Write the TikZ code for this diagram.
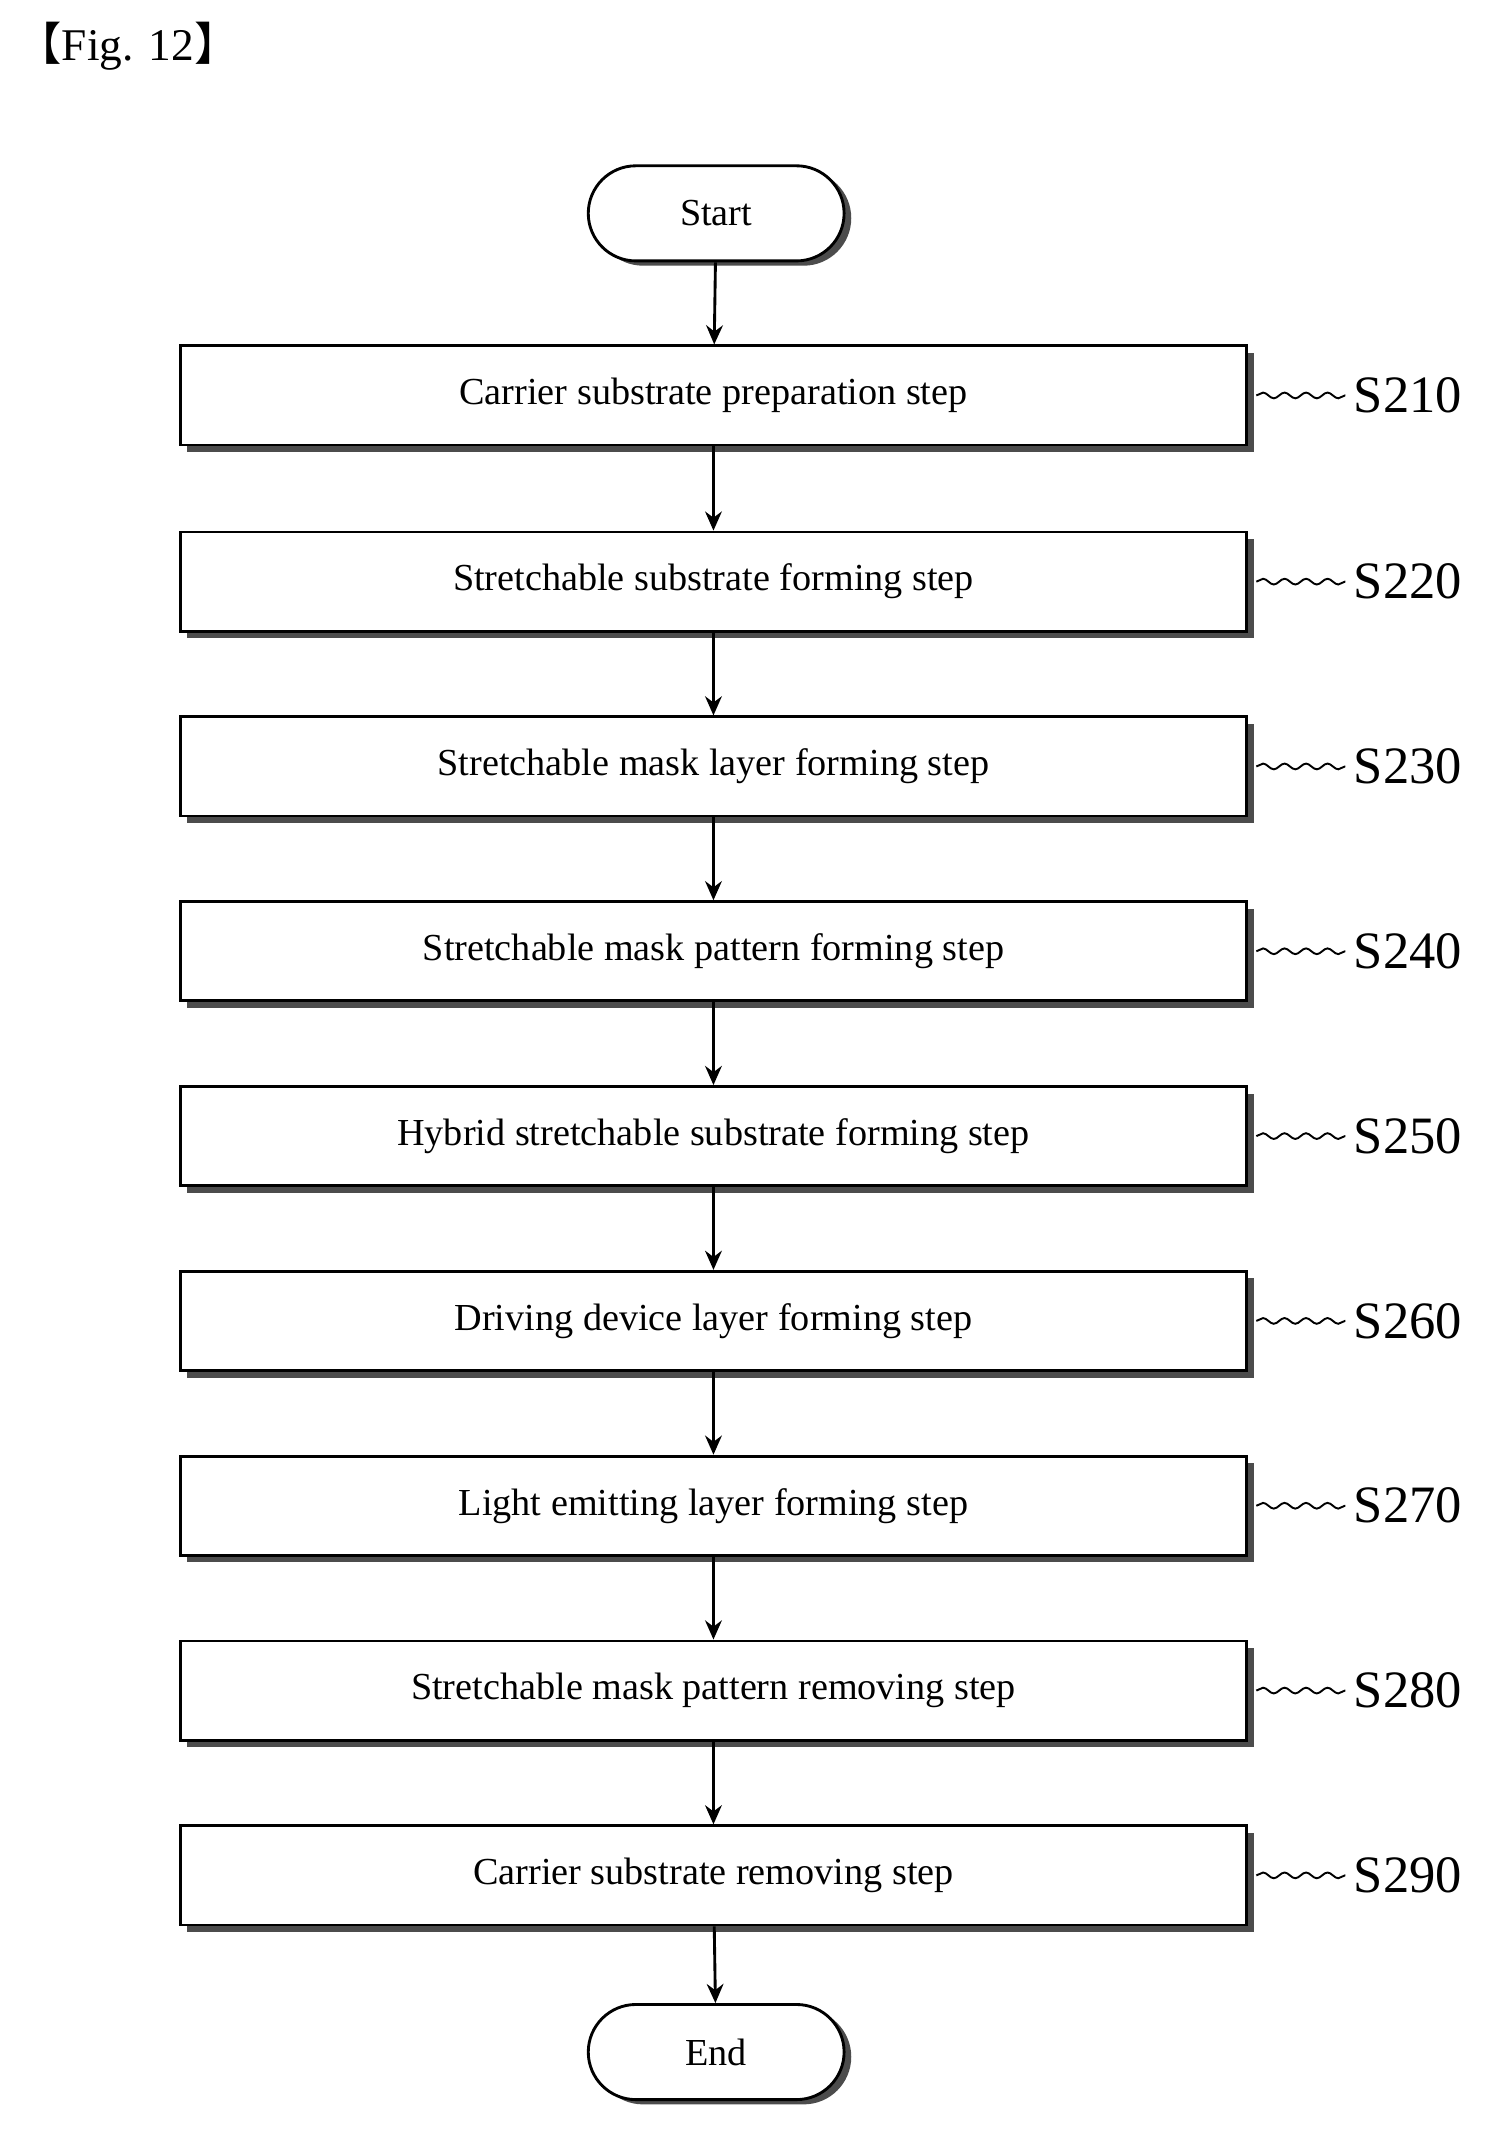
\documentclass[tikz,border=0pt]{standalone}
\usepackage{fontspec}
\setmainfont{Liberation Serif}
\newfontfamily\cjk{Noto Sans CJK SC}
\usetikzlibrary{arrows.meta,decorations.pathmorphing,shapes.misc,shadows}
\begin{document}
\begin{tikzpicture}[x=0.02cm,y=-0.02cm,
  box/.style={draw,line width=1.2pt,minimum width=15.7cm,minimum height=1.46cm,fill=white,font=\fontsize{16}{18}\selectfont,
    general shadow={fill=black!70,shadow xshift=3pt,shadow yshift=-3pt}},
  term/.style={draw,line width=1.2pt,rounded rectangle,minimum width=4cm,minimum height=1.4cm,fill=white,font=\fontsize{16}{18}\selectfont,
    general shadow={fill=black!70,shadow xshift=3pt,shadow yshift=-2pt}},
  arr/.style={-{Stealth[length=8pt,width=7pt]},line width=1.2pt},
  lab/.style={font=\fontsize{22}{24}\selectfont,anchor=west},
  wave/.style={decorate,decoration={snake,amplitude=1.2pt,segment length=9pt},line width=0.8pt}]
\useasboundingbox (0,0) rectangle (1100,1574);
\node[anchor=north west,font=\fontsize{19}{22}\selectfont] (fig) at (6,10) {{\cjk 【}Fig. 12{\cjk 】}};
\node[term] (start) at (527,157) {Start};
\node[term] (end) at (527,1510) {End};
\foreach \i/\y/\t in {1/291/Carrier substrate preparation step,
  2/428/Stretchable substrate forming step,
  3/564/Stretchable mask layer forming step,
  4/700/Stretchable mask pattern forming step,
  5/836/Hybrid stretchable substrate forming step,
  6/972/Driving device layer forming step,
  7/1108/Light emitting layer forming step,
  8/1244/Stretchable mask pattern removing step,
  9/1380/Carrier substrate removing step}{
  \node[box] (b\i) at (525,\y) {\t};
  \pgfmathtruncatemacro{\n}{200+10*\i}
  \node[lab] (l\i) at (990,\y) {S\n};
  \draw[wave] (b\i.east) ++(6,0) -- (l\i.west);
}
\draw[arr] (start) -- (b1);
\foreach \a/\b in {1/2,2/3,3/4,4/5,5/6,6/7,7/8,8/9}{\draw[arr] (b\a) -- (b\b);}
\draw[arr] (b9) -- (end);
\end{tikzpicture}
\end{document}
